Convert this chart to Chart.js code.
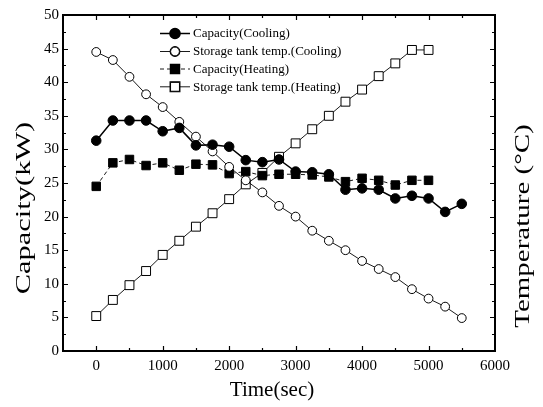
<!DOCTYPE html>
<html>
<head>
<meta charset="utf-8">
<script src="https://cdn.jsdelivr.net/npm/chart.js@4"></script>
<style>
html,body{margin:0;padding:0;background:#fff;}
#wrap{width:543px;height:407px;position:relative;}
</style>
</head>
<body>
<div id="wrap"><canvas id="c" width="543" height="407"></canvas></div>
<script>
// ---- data ----
const timeCooling = [0,250,500,750,1000,1250,1500,1750,2000,2250,2500,2750,3000,3250,3500,3750,4000,4250,4500,4750,5000,5250,5500];
const capacityCooling = [31.3,34.3,34.3,34.3,32.7,33.2,30.6,30.7,30.4,28.4,28.1,28.5,26.7,26.6,26.3,24.0,24.2,24.0,22.7,23.1,22.7,20.7,21.9];
const tankCooling = [44.5,43.3,40.8,38.2,36.3,34.1,31.9,29.7,27.4,25.4,23.6,21.6,20.0,17.9,16.4,15.0,13.4,12.2,11.0,9.2,7.8,6.6,4.9];
const timeHeating = [0,250,500,750,1000,1250,1500,1750,2000,2250,2500,2750,3000,3250,3500,3750,4000,4250,4500,4750,5000];
const capacityHeating = [24.5,28.0,28.5,27.6,28.0,26.9,27.8,27.7,26.4,26.7,26.1,26.3,26.3,26.2,25.9,25.2,25.7,25.4,24.7,25.4,25.4];
const tankHeating = [5.2,7.6,9.8,11.9,14.3,16.4,18.5,20.5,22.6,24.8,26.5,28.9,30.9,33.0,35.0,37.1,38.9,40.9,42.8,44.8,44.8];
const seriesNames = ['Capacity(Cooling)','Storage tank temp.(Cooling)','Capacity(Heating)','Storage tank temp.(Heating)'];
const xTitle = 'Time(sec)';
const yTitle = 'Capacity(kW)';
const y2Title = 'Temperature (\u00B0C)';

const pts = (xs, ys) => xs.map((x, i) => ({x: x, y: ys[i]}));
const SERIF = '"Liberation Serif", "DejaVu Serif", serif';

const datasets = [
  {label: seriesNames[0], data: pts(timeCooling, capacityCooling), borderColor:'#000', borderWidth:1.5,
   pointStyle:'circle', pointRadius:4.8, pointBackgroundColor:'#000', pointBorderColor:'#000', pointBorderWidth:1},
  {label: seriesNames[1], data: pts(timeCooling, tankCooling), borderColor:'#000', borderWidth:0.9,
   pointStyle:'circle', pointRadius:4.4, pointBackgroundColor:'#fff', pointBorderColor:'#000', pointBorderWidth:1},
  {label: seriesNames[2], data: pts(timeHeating, capacityHeating), borderColor:'#000', borderWidth:0.9, borderDash:[4,3],
   pointStyle:'rect', pointRadius:6.0, pointBackgroundColor:'#000', pointBorderColor:'#000', pointBorderWidth:1},
  {label: seriesNames[3], data: pts(timeHeating, tankHeating), borderColor:'#000', borderWidth:0.9,
   pointStyle:'rect', pointRadius:6.3, pointBackgroundColor:'#fff', pointBorderColor:'#000', pointBorderWidth:1}
];

const framePlugin = {
  id: 'frame',
  afterDraw(chart) {
    const ctx = chart.ctx, a = chart.chartArea;
    const xs = chart.scales.x, ys = chart.scales.y;
    ctx.save();
    ctx.strokeStyle = '#000';
    // ticks
    ctx.lineWidth = 1.2;
    xs.ticks.forEach(t => {
      if (t.value <= xs.min || t.value >= xs.max) return;
      const px = Math.round(xs.getPixelForValue(t.value)) + 0.5;
      const len = (t.value % 1000 === 0) ? 5 : 3;
      ctx.beginPath();
      ctx.moveTo(px, a.bottom); ctx.lineTo(px, a.bottom - len);
      ctx.moveTo(px, a.top); ctx.lineTo(px, a.top + len);
      ctx.stroke();
    });
    ys.ticks.forEach(t => {
      if (t.value <= ys.min || t.value >= ys.max) return;
      const py = Math.round(ys.getPixelForValue(t.value)) + 0.5;
      const len = (Math.abs(t.value % 5) < 1e-6) ? 5 : 3;
      ctx.beginPath();
      ctx.moveTo(a.left, py); ctx.lineTo(a.left + len, py);
      ctx.moveTo(a.right, py); ctx.lineTo(a.right - len, py);
      ctx.stroke();
    });
    // frame
    ctx.lineWidth = 2;
    ctx.strokeRect(a.left, a.top, a.right - a.left, a.bottom - a.top);

    // axis titles
    ctx.fillStyle = '#000';
    ctx.textAlign = 'center';
    ctx.textBaseline = 'middle';
    ctx.font = '21px ' + SERIF;
    ctx.fillText(xTitle, 272, 390);

    ctx.save();
    ctx.translate(24, 208);
    ctx.rotate(-Math.PI / 2);
    ctx.scale(1.45, 1);
    ctx.font = '21px ' + SERIF;
    ctx.fillText(yTitle, 0, 0);
    ctx.restore();

    ctx.save();
    ctx.translate(523, 226);
    ctx.rotate(-Math.PI / 2);
    ctx.scale(1.38, 1);
    ctx.font = '21px ' + SERIF;
    ctx.fillText(y2Title, 0, 0);
    ctx.restore();

    // legend
    const rows = [33.5, 51.5, 69, 86.8];
    ctx.font = '13px ' + SERIF;
    ctx.textAlign = 'left';
    chart.data.datasets.forEach((ds, i) => {
      const y = rows[i];
      ctx.save();
      ctx.strokeStyle = '#000';
      ctx.lineWidth = ds.borderWidth;
      if (ds.borderDash) ctx.setLineDash(ds.borderDash);
      ctx.beginPath(); ctx.moveTo(160, y); ctx.lineTo(190, y); ctx.stroke();
      ctx.restore();
      Chart.helpers.drawPoint(ctx, {
        pointStyle: ds.pointStyle, radius: ds.pointRadius, rotation: 0, borderWidth: ds.pointBorderWidth
      }, 175, y);
      ctx.save();
      ctx.fillStyle = ds.pointBackgroundColor; ctx.strokeStyle = '#000'; ctx.lineWidth = ds.pointBorderWidth;
      ctx.beginPath();
      if (ds.pointStyle === 'circle') { ctx.arc(175, y, ds.pointRadius, 0, Math.PI * 2); }
      else { const s = Math.SQRT1_2 * ds.pointRadius; ctx.rect(175 - s, y - s, 2 * s, 2 * s); }
      ctx.fill(); ctx.stroke();
      ctx.restore();
      ctx.fillStyle = '#000';
      ctx.fillText(ds.label, 193, y + 0.5);
    });
    ctx.restore();
  }
};

new Chart(document.getElementById('c'), {
  type: 'line',
  data: {datasets: datasets},
  options: {
    responsive: false,
    animation: false,
    layout: {padding: {top: 15, right: 48, left: 0, bottom: 0}},
    plugins: {legend: {display: false}, tooltip: {enabled: false}},
    elements: {line: {tension: 0}},
    scales: {
      x: {
        type: 'linear', position: 'bottom', min: -500, max: 6000,
        afterFit: s => { s.height = 56; },
        grid: {display: false, drawTicks: false}, border: {display: false},
        ticks: {stepSize: 500, padding: 6, color: '#000', font: {family: SERIF, size: 15},
          maxRotation: 0, autoSkip: false,
          callback: v => (v >= 0 && v % 1000 === 0) ? String(v) : ''}
      },
      y: {
        type: 'linear', position: 'left', min: 0, max: 50,
        afterFit: s => { s.width = 63; },
        grid: {display: false, drawTicks: false}, border: {display: false},
        ticks: {stepSize: 2.5, padding: 4, color: '#000', font: {family: SERIF, size: 15}, autoSkip: false,
          callback: v => (Math.abs(v % 5) < 1e-6) ? String(v) : ''}
      }
    }
  },
  plugins: [framePlugin]
});
</script>
</body>
</html>
